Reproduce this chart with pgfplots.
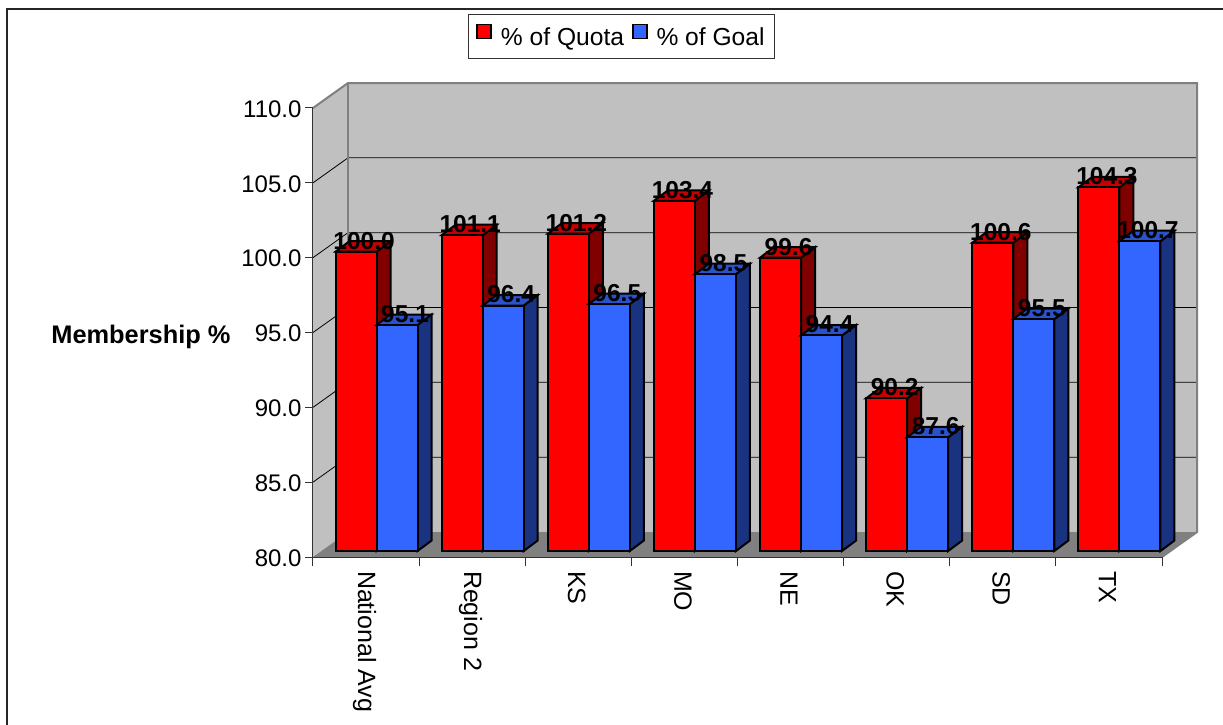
\documentclass[border=0pt]{standalone}
\usepackage{pgfplots}
\usepackage{pgfplotstable}
\usepackage{fontspec}
\pgfplotsset{compat=1.18}
\setmainfont{Liberation Sans}

\definecolor{wall}{HTML}{C0C0C0}
\definecolor{floorgray}{HTML}{808080}
\definecolor{quotared}{HTML}{FF0000}
\definecolor{quotaside}{HTML}{800000}
\definecolor{quotatop}{HTML}{C60000}
\definecolor{goalblue}{HTML}{3366FF}
\definecolor{goalside}{HTML}{1A3380}
\definecolor{goaltop}{HTML}{2952CC}

\pgfplotstableread{
idx quota goal
0.5 100.0 95.1
1.5 101.1 96.4
2.5 101.2 96.5
3.5 103.4 98.5
4.5 99.6 94.4
5.5 90.2 87.6
6.5 100.6 95.5
7.5 104.3 100.7
}\membership

% side and top face of one 3D bar: centre, value, shift, side colour, top colour
\newcommand{\barfaces}[5]{%
  \pgfmathsetmacro\xl{#1-.1932}%
  \pgfmathsetmacro\xr{#1+.1932}%
  \pgfmathsetmacro\xa{#1-.1932+.132}%
  \pgfmathsetmacro\xb{#1+.1932+.132}%
  \pgfmathsetmacro\vt{#2+.7}%
  \addplot[forget plot,fill=#4,draw=black,line width=2pt,xshift=#3,yshift=6pt]
    coordinates {(\xr,80) (\xb,80.7) (\xb,\vt) (\xr,#2)} -- cycle;
  \addplot[forget plot,fill=#5,draw=black,line width=2pt,xshift=#3,yshift=6pt]
    coordinates {(\xl,#2) (\xr,#2) (\xb,\vt) (\xa,\vt)} -- cycle;
}

\begin{document}
\begin{tikzpicture}[x=1pt,y=1pt]
\path[use as bounding box] (-313,-168) rectangle (910,557);
\draw[line width=1.5pt,black!85] (-306,-168) -- (-306,548) -- (910,548);
\begin{axis}[
	at={(0,0)},
	anchor=origin,
	scale only axis,
	width=849pt,
	height=449pt,
	xmin=0, xmax=8,
	ymin=80, ymax=110,
	clip=false,
	axis on top,
	axis x line*=bottom,
	axis y line*=left,
	axis line style={line width=1pt,black!80},
	font=\fontsize{24}{28}\selectfont,
	ytick={80,85,...,110},
	xtick={0.5,1.5,...,7.5},
	xticklabels={National Avg,Region 2,KS,MO,NE,OK,SD,TX},
	minor xtick={0,1,...,8},
	tick align=outside,
	major tick length=8pt,
	minor tick length=9pt,
	x tick style={draw=none},
	minor x tick style={draw=black!80,line width=1pt},
	y tick style={draw=black!80,line width=1pt},
	xticklabel style={rotate=-90,anchor=west,yshift=-1.5pt,xshift=2.5pt,font=\fontsize{25}{28}\selectfont},
	yticklabel style={yshift=-1pt,/pgf/number format/fixed,/pgf/number format/fixed zerofill,/pgf/number format/precision=1,/pgf/number format/assume math mode=true},
	ylabel={\textbf{Membership \%}},
	every axis y label/.style={at={(axis description cs:-0.2026,0.4905)},anchor=center,font=\fontsize{25.4}{28}\selectfont},
	legend columns=2,
	legend style={at={(axis description cs:0.3634,1.159)},anchor=center,draw=black!80,line width=1pt,font=\fontsize{24.6}{28}\selectfont,inner xsep=8pt,inner ysep=9pt,/tikz/every even column/.append style={column sep=6pt},/tikz/every odd column/.append style={column sep=7pt}},
	legend image code/.code={\draw[#1,line width=1.5pt] (0pt,-7pt) rectangle (14pt,7pt);},
]
% walls and floor
\addplot[forget plot,fill=wall,draw=none] coordinates {(0,80) (.33,81.67) (8.33,81.67) (8.33,111.67) (.33,111.67) (0,110)} -- cycle;
\addplot[forget plot,fill=floorgray,draw=none] coordinates {(0,80) (.33,81.67) (8.33,81.67) (8,80)} -- cycle;
% gridlines
\addplot[forget plot,black,line width=.8pt] coordinates {(0,85) (.33,86.67) (8.33,86.67)};
\addplot[forget plot,black,line width=.8pt] coordinates {(0,90) (.33,91.67) (8.33,91.67)};
\addplot[forget plot,black,line width=.8pt] coordinates {(0,95) (.33,96.67) (8.33,96.67)};
\addplot[forget plot,black,line width=.8pt] coordinates {(0,100) (.33,101.67) (8.33,101.67)};
\addplot[forget plot,black,line width=.8pt] coordinates {(0,105) (.33,106.67) (8.33,106.67)};
% wall edges
\addplot[forget plot,floorgray,line width=2pt] coordinates {(0,110) (.33,111.67) (8.33,111.67) (8.33,81.67) (8,80)};
\addplot[forget plot,floorgray,line width=2pt] coordinates {(.33,111.67) (.33,81.67)};

% red bars
\barfaces{0.5}{100.0}{-10pt}{quotaside}{quotatop}
\barfaces{1.5}{101.1}{-10pt}{quotaside}{quotatop}
\barfaces{2.5}{101.2}{-10pt}{quotaside}{quotatop}
\barfaces{3.5}{103.4}{-10pt}{quotaside}{quotatop}
\barfaces{4.5}{99.6}{-10pt}{quotaside}{quotatop}
\barfaces{5.5}{90.2}{-10pt}{quotaside}{quotatop}
\barfaces{6.5}{100.6}{-10pt}{quotaside}{quotatop}
\barfaces{7.5}{104.3}{-10pt}{quotaside}{quotatop}
\addplot[ybar,bar width=41pt,bar shift=-10pt,yshift=6pt,fill=quotared,draw=black,line width=2pt] table[x=idx,y=quota] {\membership};
\addlegendentry{\% of Quota}

% blue bars
\barfaces{0.5}{95.1}{31pt}{goalside}{goaltop}
\barfaces{1.5}{96.4}{31pt}{goalside}{goaltop}
\barfaces{2.5}{96.5}{31pt}{goalside}{goaltop}
\barfaces{3.5}{98.5}{31pt}{goalside}{goaltop}
\barfaces{4.5}{94.4}{31pt}{goalside}{goaltop}
\barfaces{5.5}{87.6}{31pt}{goalside}{goaltop}
\barfaces{6.5}{95.5}{31pt}{goalside}{goaltop}
\barfaces{7.5}{100.7}{31pt}{goalside}{goaltop}
\addplot[ybar,bar width=41pt,bar shift=31pt,yshift=6pt,fill=goalblue,draw=black,line width=2pt] table[x=idx,y=goal] {\membership};
\addlegendentry{\% of Goal}

% value labels
\pgfplotsset{valuelabels/.style={forget plot,draw=none,nodes near coords,
	every node near coord/.append style={anchor=center,font=\fontsize{24.5}{28}\selectfont\bfseries,inner sep=0pt,
	/pgf/number format/fixed,/pgf/number format/fixed zerofill,/pgf/number format/precision=1,/pgf/number format/assume math mode=true}}}
\addplot[valuelabels,xshift=-2pt,yshift=17pt] table[x=idx,y=quota] {\membership};
\addplot[valuelabels,xshift=39pt,yshift=17pt] table[x=idx,y=goal] {\membership};
\end{axis}
\end{tikzpicture}
\end{document}
